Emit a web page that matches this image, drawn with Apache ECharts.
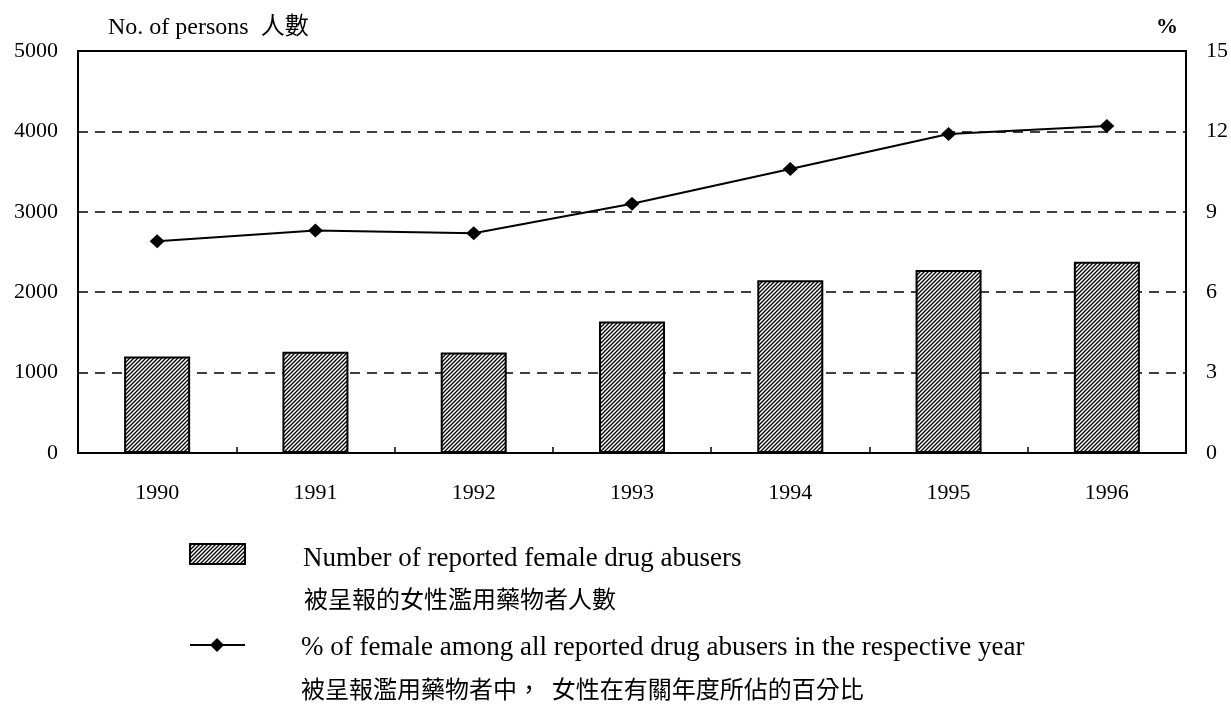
<!DOCTYPE html>
<html>
<head>
<meta charset="UTF-8">
<title>Reported female drug abusers 1990-1996</title>
<script src="https://cdn.jsdelivr.net/npm/echarts@6/dist/echarts.min.js"></script>
<style>
  html, body { margin: 0; padding: 0; background: #fff; }
  #main { width: 1231px; height: 704px; }
</style>
</head>
<body>
<div id="main"></div>
<script>
// data
var years = ['1990', '1991', '1992', '1993', '1994', '1995', '1996'];
var femaleAbusers = [1200, 1260, 1250, 1635, 2150, 2275, 2380];
var femalePercent = [7.9, 8.3, 8.2, 9.3, 10.6, 11.9, 12.2];
var leftTicks = [0, 1000, 2000, 3000, 4000, 5000];
var rightTicks = [0, 3, 6, 9, 12, 15];

var serif = '"Liberation Serif", "Noto Sans CJK TC", serif';
var cjk = '"Noto Sans CJK TC", sans-serif';

// diagonal hatch for the bars
function makeHatch() {
    var s = 4;
    var c = document.createElement('canvas');
    c.width = s; c.height = s;
    var ctx = c.getContext('2d');
    ctx.fillStyle = '#fff';
    ctx.fillRect(0, 0, s, s);
    ctx.strokeStyle = '#000';
    ctx.lineWidth = 1.3;
    ctx.beginPath();
    ctx.moveTo(-1, s + 1); ctx.lineTo(s + 1, -1);
    ctx.moveTo(-1, 1); ctx.lineTo(1, -1);
    ctx.moveTo(s - 1, s + 1); ctx.lineTo(s + 1, s - 1);
    ctx.stroke();
    return c;
}
var hatch = makeHatch();

var myChart = echarts.init(document.getElementById('main'));

var option = {
    animation: false,
    backgroundColor: '#fff',
    grid: {
        left: 78, right: 45, top: 51, bottom: 251,
        show: true, borderColor: '#000', borderWidth: 2
    },
    xAxis: {
        type: 'category',
        data: years,
        boundaryGap: true,
        axisLine: { lineStyle: { color: '#000', width: 2 } },
        axisTick: { show: true, inside: true, length: 6, lineStyle: { color: '#000', width: 1.5 } },
        axisLabel: { color: '#000', fontFamily: serif, fontSize: 22, margin: 29 }
    },
    yAxis: [
        {
            type: 'value',
            min: leftTicks[0],
            max: leftTicks[leftTicks.length - 1],
            interval: leftTicks[1] - leftTicks[0],
            name: 'No. of persons  人數',
            nameLocation: 'end',
            nameGap: 11,
            nameTextStyle: { color: '#000', fontFamily: serif, fontSize: 24, align: 'left', padding: [0, 0, 0, 30] },
            axisLine: { show: true, lineStyle: { color: '#000', width: 2 } },
            axisTick: { show: false },
            axisLabel: {
                color: '#000', fontFamily: serif, fontSize: 22, margin: 20,
                formatter: function (v) { return String(v); }
            },
            splitLine: { show: true, lineStyle: { color: '#000', width: 1.5, type: [10, 7] } }
        },
        {
            type: 'value',
            position: 'right',
            min: rightTicks[0],
            max: rightTicks[rightTicks.length - 1],
            interval: rightTicks[1] - rightTicks[0],
            name: '%',
            nameLocation: 'end',
            nameGap: 13,
            nameTextStyle: { color: '#000', fontFamily: serif, fontSize: 22, fontWeight: 'bold', align: 'right', padding: [0, 8, 0, 0] },
            axisLine: { show: true, lineStyle: { color: '#000', width: 2 } },
            axisTick: { show: false },
            axisLabel: { color: '#000', fontFamily: serif, fontSize: 22, margin: 20 },
            splitLine: { show: false }
        }
    ],
    series: [
        {
            name: 'Number of reported female drug abusers',
            type: 'bar',
            yAxisIndex: 0,
            data: femaleAbusers,
            barWidth: 66,
            itemStyle: {
                color: { image: hatch, repeat: 'repeat' },
                borderColor: '#000',
                borderWidth: 2
            }
        },
        {
            name: '% of female among all reported drug abusers in the respective year',
            type: 'line',
            yAxisIndex: 1,
            data: femalePercent,
            symbol: 'diamond',
            symbolSize: [15, 14],
            lineStyle: { color: '#000', width: 2 },
            itemStyle: { color: '#000' }
        }
    ],
    graphic: [
        {
            type: 'rect',
            shape: { x: 190, y: 544, width: 55, height: 20 },
            style: { fill: { image: hatch, repeat: 'repeat' }, stroke: '#000', lineWidth: 2 }
        },
        {
            type: 'text', x: 303, y: 559,
            style: { text: 'Number of reported female drug abusers', fill: '#000', font: '27px ' + serif, textVerticalAlign: 'middle' }
        },
        {
            type: 'text', x: 304, y: 599,
            style: { text: '被呈報的女性濫用藥物者人數', fill: '#000', font: '24px ' + cjk, textVerticalAlign: 'middle' }
        },
        {
            type: 'line',
            shape: { x1: 190, y1: 645, x2: 245, y2: 645 },
            style: { stroke: '#000', lineWidth: 2 }
        },
        {
            type: 'polygon',
            shape: { points: [[217, 638], [224, 645], [217, 652], [210, 645]] },
            style: { fill: '#000' }
        },
        {
            type: 'text', x: 301, y: 648,
            style: { text: '% of female among all reported drug abusers in the respective year', fill: '#000', font: '27px ' + serif, textVerticalAlign: 'middle' }
        },
        {
            type: 'text', x: 301, y: 689,
            style: { text: '被呈報濫用藥物者中，  女性在有關年度所佔的百分比', fill: '#000', font: '24px ' + cjk, textVerticalAlign: 'middle' }
        }
    ]
};

myChart.setOption(option);
</script>
</body>
</html>
